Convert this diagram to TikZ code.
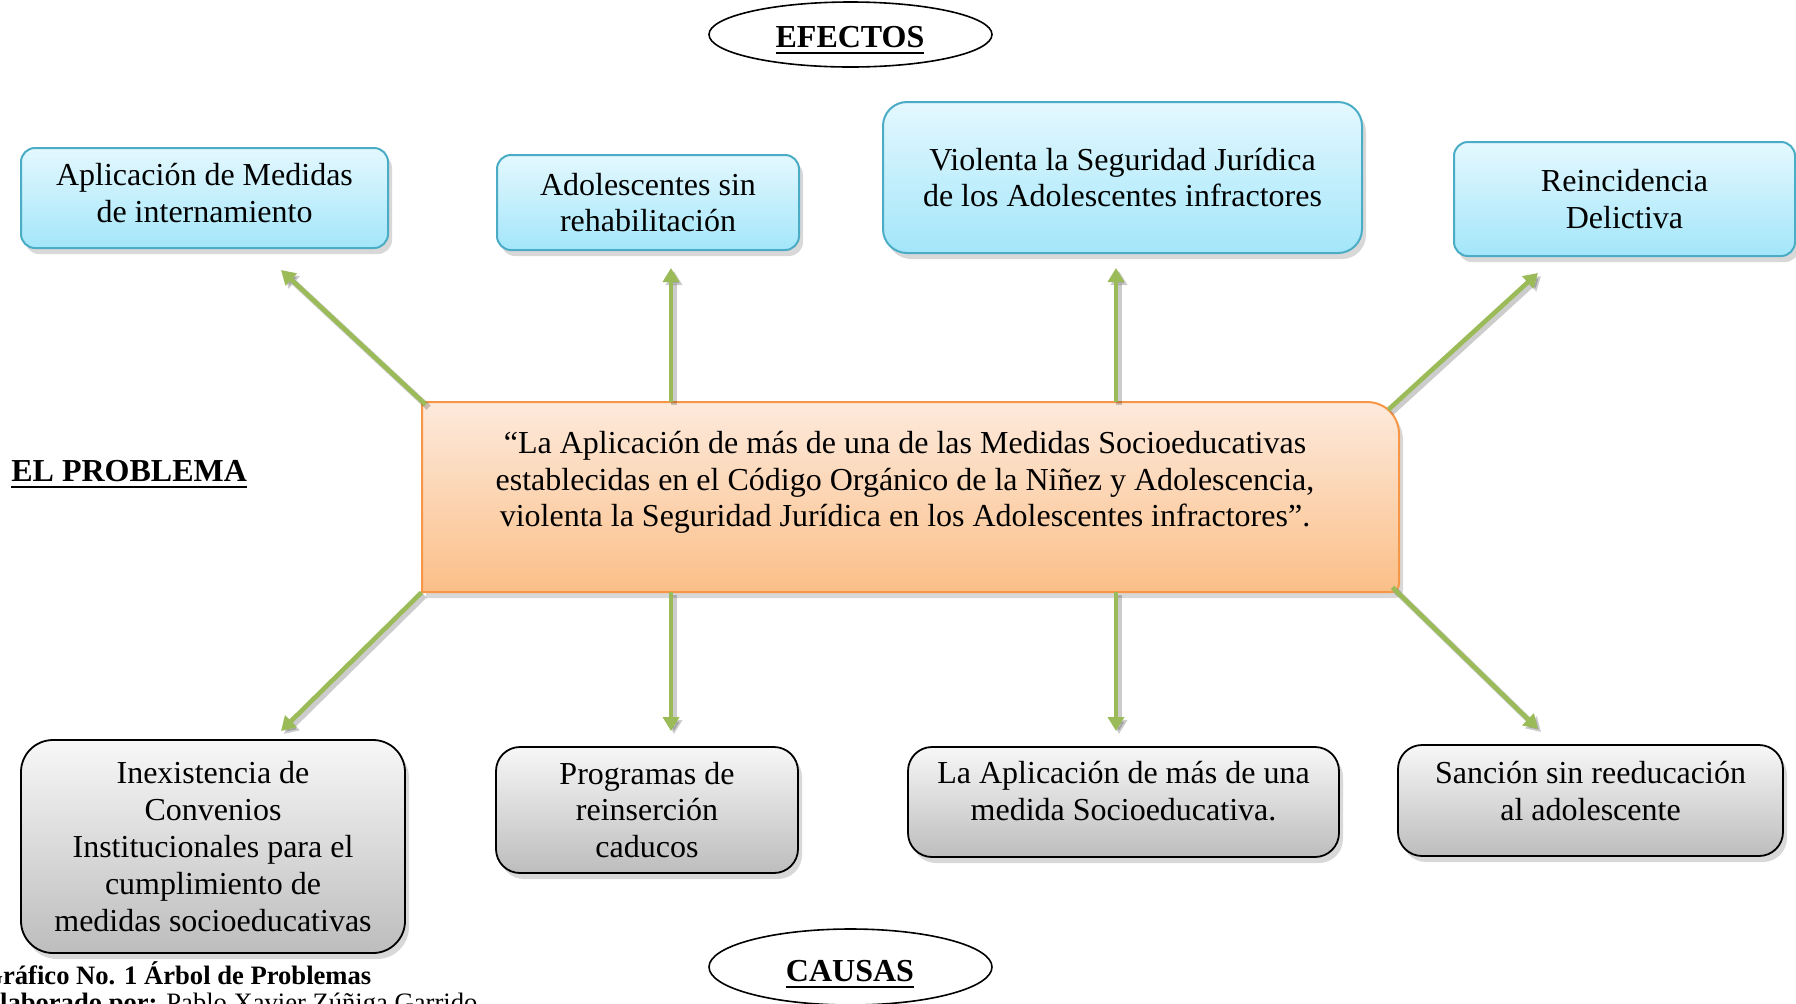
\documentclass[tikz,border=0pt]{standalone}
\usepackage{fontspec}
\setmainfont{Liberation Serif}
\usetikzlibrary{shapes.geometric,shadows,arrows.meta,calc}
\definecolor{bluetop}{HTML}{E4F8FE}
\definecolor{bluebot}{HTML}{A3E6FA}
\definecolor{blueline}{HTML}{4BACC6}
\definecolor{graytop}{HTML}{F7F7F7}
\definecolor{graybot}{HTML}{BDBDBD}
\definecolor{orangetop}{HTML}{FDEADC}
\definecolor{orangebot}{HTML}{FBBF88}
\definecolor{orangeline}{HTML}{F79646}
\definecolor{arrowgreen}{HTML}{9BBB59}
\newcommand\myul[1]{\vtop{\hbox{#1}\kern2.2pt\hrule height 1.2pt}}
\newcommand\dn[1]{\rule[-#1]{0pt}{#1}}
\begin{document}
\begin{tikzpicture}[x=0.5pt,y=-0.5pt,
  txt/.style={font=\fontsize{16}{18.4}\selectfont, align=center, inner sep=0pt},
  shad/.style={drop shadow={shadow xshift=2pt, shadow yshift=-3pt, opacity=0.3}},
  effbox/.style={txt, draw=blueline, line width=1pt, top color=bluetop, bottom color=bluebot, rounded corners=7pt, shad},
  causebox/.style={txt, draw=black, line width=0.9pt, top color=graytop, bottom color=graybot, rounded corners=12pt, shad},
  oval/.style={ellipse, draw=black, line width=0.8pt, inner sep=0pt},
  ttl/.style={font=\fontsize{16}{18}\selectfont\bfseries, inner sep=0pt},
  captxt/.style={font=\fontsize{13.3}{13.3}\selectfont, inner sep=0pt, anchor=base west},
  garrow/.style={draw=arrowgreen, line width=2.3pt, -{Triangle[length=7pt,width=8pt]},
    preaction={draw=black, opacity=0.2, line width=3pt, transform canvas={xshift=1.5pt,yshift=-1.5pt}}}
]
\useasboundingbox (0,0) rectangle (1796,1003);
\fill[white] (0,0) rectangle (1796,1003);
\clip (0,0) rectangle (1796,1003);

% titles
\node[oval, minimum width=141.5pt, minimum height=32.5pt] (efe) at (850.5,34.5) {};
\node[ttl, anchor=base] (efetxt) at (850,47) {\myul{EFECTOS}};
\node[oval, minimum width=141.5pt, minimum height=38pt] (cau) at (850.5,967) {};
\node[ttl, anchor=base] (cautxt) at (850,981) {\myul{CAUSAS}};
\node[ttl, anchor=base west] (elp) at (11,481) {\myul{EL PROBLEMA}};

% effects
\node[effbox, minimum width=183.5pt, minimum height=50pt] (e1) at (204.5,198) {Aplicación de Medidas\\de internamiento\dn{5pt}};
\node[effbox, minimum width=151pt, minimum height=47.5pt] (e2) at (648,202.5) {Adolescentes sin\\rehabilitación};
\node[effbox, rounded corners=12pt, minimum width=239.5pt, minimum height=75.5pt] (e3) at (1122.5,177.5) {Violenta la Seguridad Jurídica\\de los Adolescentes infractores};
\node[effbox, minimum width=170.5pt, minimum height=57pt] (e4) at (1624.5,199) {Reincidencia\\Delictiva};

% causes
\node[causebox, rounded corners=16pt, minimum width=192pt, minimum height=106.5pt] (c1) at (213,846.5) {Inexistencia de\\Convenios\\Institucionales para el\\cumplimiento de\\medidas socioeducativas};
\node[causebox, minimum width=151pt, minimum height=63pt] (c2) at (647,810) {Programas de\\reinserción\\caducos};
\node[causebox, minimum width=215.5pt, minimum height=55pt] (c3) at (1123.5,802) {La Aplicación de más de una\\medida Socioeducativa.\dn{11pt}};
\node[causebox, minimum width=192.5pt, minimum height=55.5pt] (c4) at (1590.5,800.5) {Sanción sin reeducación\\al adolescente\dn{10pt}};

% problem
\node[inner sep=0pt, minimum width=488.5pt, minimum height=95pt] (prob) at (910.5,497) {};
\shade[top color=orangetop, bottom color=orangebot, draw=orangeline, line width=1pt, shad]
  (422,402) -- (1367,402) .. controls (1385,402) and (1399,416) .. (1399,434)
  -- (1399,584) .. controls (1399,589) and (1395,592) .. (1391,592) -- (422,592) -- cycle;
\node[txt] (probtxt) at (905,482.5) {“La Aplicación de más de una de las Medidas Socioeducativas\\establecidas en el Código Orgánico de la Niñez y Adolescencia,\\violenta la Seguridad Jurídica en los Adolescentes infractores”.};

% arrows
\coordinate (a1) at (281,270);
\coordinate (a2) at (671,268);
\coordinate (a3) at (1116,268);
\coordinate (a4) at (1538,273);
\coordinate (b1) at (281,731);
\coordinate (b2) at (671,731);
\coordinate (b3) at (1116,731);
\coordinate (b4) at (1538,729);
\draw[garrow] ([shift={(4,3)}]prob.north west) -- (a1);
\draw[garrow] (prob.north -| a2) -- (a2);
\draw[garrow] (prob.north -| a3) -- (a3);
\draw[garrow] ([shift={(-11,8)}]prob.north east) -- (a4);
\draw[garrow] (prob.south west) -- (b1);
\draw[garrow] (prob.south -| b2) -- (b2);
\draw[garrow] (prob.south -| b3) -- (b3);
\draw[garrow] ([shift={(-7,-5)}]prob.south east) -- (b4);

% caption
\node[captxt] (cap1) at (-18,984) {\bfseries Gráfico No. 1 Árbol de Problemas};
\node[captxt] (cap2) at (-18,1011) {\bfseries Elaborado por: \mdseries Pablo Xavier Zúñiga Garrido};
\end{tikzpicture}
\end{document}
